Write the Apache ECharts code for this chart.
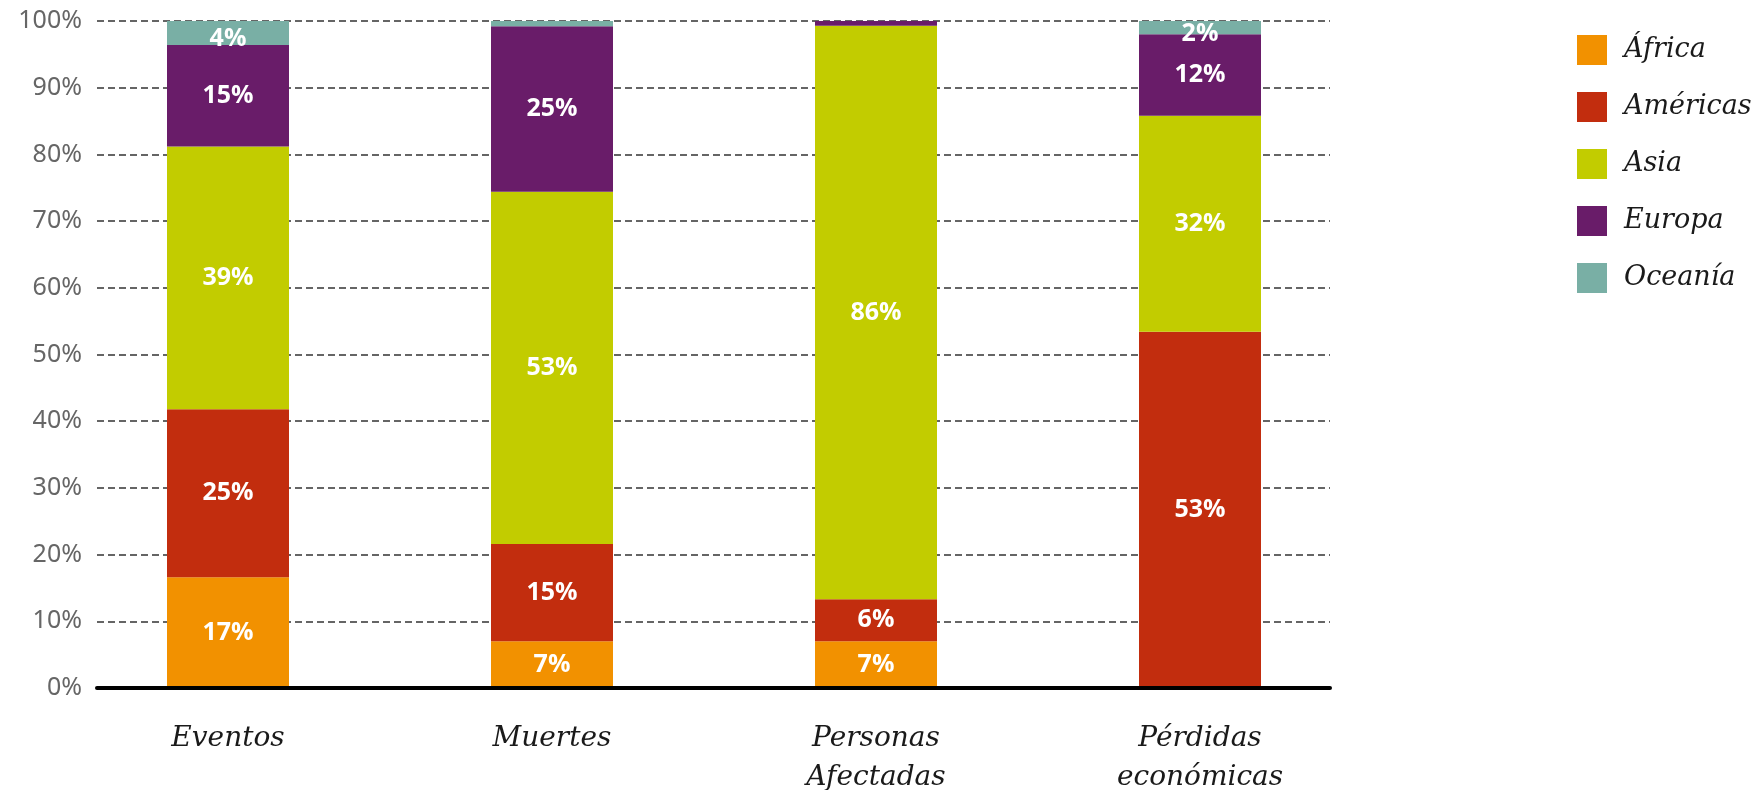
<!DOCTYPE html>
<html>
<head>
<meta charset="utf-8">
<title>Distribución por región</title>
<script src="https://cdn.jsdelivr.net/npm/echarts@6/dist/echarts.min.js"></script>
<style>
  html, body { margin: 0; padding: 0; background: #fff; }
  #chart { width: 1760px; height: 790px; }
</style>
</head>
<body>
<div id="chart"></div>
<script>
// categorías del eje x
const categorias = ["Eventos", "Muertes", "Personas\nAfectadas", "Pérdidas\neconómicas"];
const regiones = ["África", "Américas", "Asia", "Europa", "Oceanía"];
const colores = ["#F29100", "#C22D0E", "#C2CC00", "#691C69", "#79AFA5"];

// valores (%) por región, en el orden de categorias
const africa   = [16.6, 7.0, 7.0, 0];
const americas = [25.2, 14.6, 6.3, 53.4];
const asia     = [39.4, 52.8, 86.0, 32.4];
const europa   = [15.2, 24.8, 0.7, 12.2];
const oceania  = [3.6, 0.8, 0, 2.0];

const valores = [africa, americas, asia, europa, oceania];

const myChart = echarts.init(document.getElementById("chart"));

// grid 0: cuadrícula, eje y y línea base
// grid 1: barras y etiquetas de categoría (algo más ancho, como en el original)
const series = regiones.map(function(nombre, i) {
  return {
    name: nombre,
    type: "bar",
    stack: "total",
    xAxisIndex: 1,
    yAxisIndex: 1,
    barWidth: 122,
    color: colores[i],
    data: valores[i],
    label: {
      show: true,
      position: "inside",
      // la etiqueta de Oceanía queda un poco más abajo en el original
      offset: i === 4 ? [0, 6] : [0, 0],
      color: "#fff",
      fontFamily: "Open Sans",
      fontWeight: "bold",
      fontSize: 25,
      formatter: function(p) {
        return p.value >= 1.5 ? Math.round(p.value) + "%" : "";
      }
    }
  };
});

const option = {
  animation: false,
  grid: [
    { left: 97, right: 430, top: 21, bottom: 102, outerBoundsMode: "none" },
    { left: 66, right: 398, top: 21, bottom: 102, outerBoundsMode: "none" }
  ],
  legend: {
    orient: "vertical",
    left: 1572,
    top: 30,
    icon: "rect",
    itemWidth: 30,
    itemHeight: 30,
    itemGap: 27,
    data: regiones,
    textStyle: {
      fontFamily: "DejaVu Serif",
      fontStyle: "italic",
      fontSize: 27,
      color: "#1a1a1a",
      padding: [0, 0, 0, 12]
    }
  },
  xAxis: [
    {
      gridIndex: 0,
      type: "value",
      min: 0,
      max: 1,
      z: 10,
      splitLine: { show: false },
      axisTick: { show: false },
      axisLabel: { show: false },
      axisLine: {
        show: true,
        lineStyle: { color: "#000", width: 4 }
      }
    },
    {
      gridIndex: 1,
      type: "category",
      data: categorias,
      axisLine: { show: false },
      axisTick: { show: false },
      axisLabel: {
        margin: 31,
        fontFamily: "DejaVu Serif",
        fontStyle: "italic",
        fontSize: 28,
        lineHeight: 39,
        color: "#1a1a1a"
      }
    }
  ],
  yAxis: [
    {
      gridIndex: 0,
      type: "value",
      min: 0,
      max: 100,
      interval: 10,
      axisLine: { show: false },
      axisTick: { show: false },
      axisLabel: {
        margin: 15,
        fontFamily: "Noto Sans",
        fontSize: 25,
        color: "#666",
        formatter: "{value}%"
      },
      splitLine: {
        lineStyle: {
          color: "#333",
          width: 1.5,
          type: [7, 4]
        }
      }
    },
    {
      gridIndex: 1,
      type: "value",
      min: 0,
      max: 100,
      show: false,
      splitLine: { show: false }
    }
  ],
  series: series
};

myChart.setOption(option);
</script>
</body>
</html>
